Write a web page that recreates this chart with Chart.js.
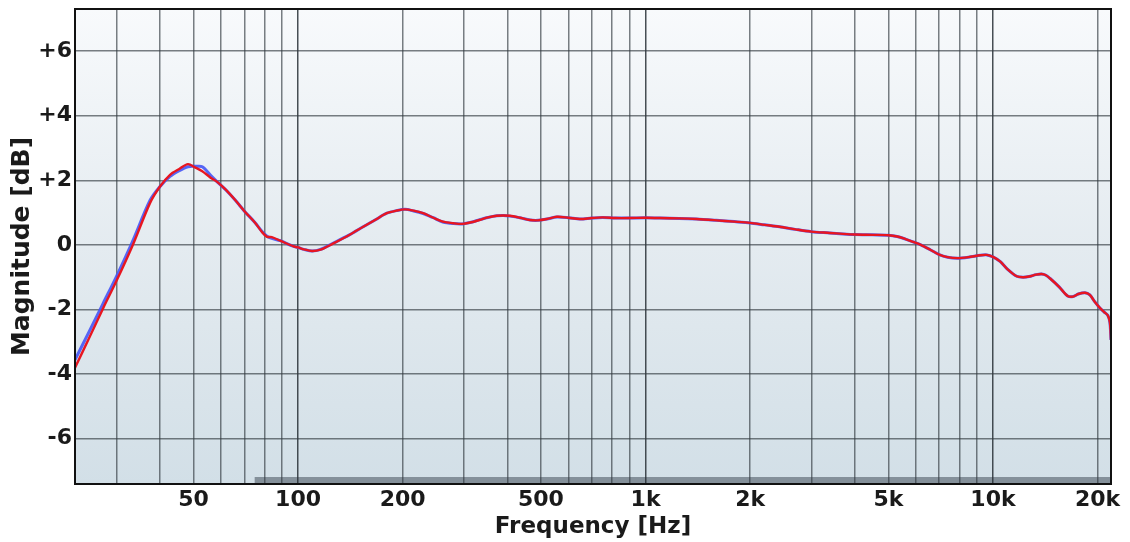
<!DOCTYPE html>
<html>
<head>
<meta charset="utf-8">
<title>Frequency response</title>
<script src="https://cdn.jsdelivr.net/npm/chart.js@4.4.1/dist/chart.umd.min.js"></script>
<style>
  html, body { margin: 0; padding: 0; background: #fff; }
  #wrap { width: 1130px; height: 542px; }
</style>
</head>
<body>
<div id="wrap"><canvas id="response" width="1130" height="542"></canvas></div>
<script>
// Measurement points (Hz)
const freqs = [22.8, 25, 27.5, 30, 33.3, 37.5, 40, 42.8, 45.5, 48.2, 50.5, 53, 56, 58.5, 62, 66, 70.4, 75, 79,
  81.4, 84, 88.8, 96.7, 100, 104, 109.7, 116, 126, 140, 154, 167, 180, 192, 203, 215, 229, 245, 261, 280, 297,
  315, 333, 352, 373, 390, 407, 435, 465, 490, 520, 556, 600, 647, 700, 752, 820, 900, 1000, 1100, 1250, 1400,
  1600, 1800, 2000, 2200, 2430, 2700, 3000, 3390, 3700, 4000, 4500, 5000, 5300, 5600, 5900, 6200, 6600, 7000,
  7400, 7900, 8500, 9200, 9600, 10000, 10500, 11000, 11700, 12200, 12700, 13300, 13800, 14200, 14600, 15500,
  16400, 17000, 17600, 18400, 19000, 19600, 20300, 20900, 21400, 21700, 21860];

// Left channel (blue), dB
const leftDb = [-3.56, -2.7, -1.8, -0.98, 0.08, 1.38, 1.8, 2.12, 2.3, 2.42, 2.43, 2.42, 2.15, 1.95, 1.7, 1.38,
  1.02, 0.7, 0.4, 0.27, 0.2, 0.13, -0.04, -0.08, -0.14, -0.19, -0.14, 0.05, 0.3, 0.56, 0.78, 0.98, 1.06, 1.1,
  1.05, 0.97, 0.84, 0.71, 0.66, 0.65, 0.7, 0.78, 0.85, 0.9, 0.91, 0.89, 0.84, 0.77, 0.76, 0.8, 0.86, 0.84, 0.8,
  0.83, 0.85, 0.83, 0.83, 0.84, 0.83, 0.82, 0.8, 0.76, 0.72, 0.68, 0.62, 0.56, 0.48, 0.41, 0.37, 0.34, 0.32,
  0.31, 0.3, 0.26, 0.18, 0.09, 0.0, -0.15, -0.3, -0.38, -0.41, -0.38, -0.32, -0.31, -0.37, -0.52, -0.75, -0.97,
  -1.0, -0.98, -0.92, -0.9, -0.94, -1.04, -1.3, -1.58, -1.6, -1.52, -1.48, -1.55, -1.75, -1.95, -2.08, -2.18,
  -2.4, -2.94];

// Right channel (red), dB
const rightDb = [-3.8, -2.9, -1.95, -1.12, -0.05, 1.3, 1.8, 2.17, 2.35, 2.5, 2.4, 2.28, 2.08, 1.95, 1.7, 1.38,
  1.02, 0.7, 0.38, 0.25, 0.24, 0.13, -0.04, -0.08, -0.14, -0.19, -0.15, 0.04, 0.3, 0.56, 0.78, 0.98, 1.06, 1.1,
  1.06, 0.98, 0.84, 0.72, 0.67, 0.65, 0.7, 0.77, 0.85, 0.9, 0.91, 0.9, 0.84, 0.77, 0.76, 0.8, 0.87, 0.84, 0.8,
  0.83, 0.85, 0.83, 0.83, 0.84, 0.83, 0.82, 0.8, 0.76, 0.72, 0.68, 0.62, 0.56, 0.48, 0.41, 0.37, 0.34, 0.32,
  0.31, 0.3, 0.26, 0.18, 0.09, 0.0, -0.15, -0.3, -0.38, -0.41, -0.38, -0.32, -0.31, -0.37, -0.52, -0.75, -0.97,
  -1.0, -0.98, -0.92, -0.9, -0.94, -1.04, -1.3, -1.58, -1.6, -1.52, -1.48, -1.55, -1.75, -1.95, -2.08, -2.18,
  -2.4, -2.94];

// Vertical grid lines and the ones that get a label
const freqGrid = [30, 40, 50, 60, 70, 80, 90, 100, 200, 300, 400, 500, 600, 700, 800, 900,
  1000, 2000, 3000, 4000, 5000, 6000, 7000, 8000, 9000, 10000, 20000];
const freqLabels = { 50: '50', 100: '100', 200: '200', 500: '500', 1000: '1k', 2000: '2k',
  5000: '5k', 10000: '10k', 20000: '20k' };
const dbTicks = [-6, -4, -2, 0, 2, 4, 6];

// shaded band along the bottom, from this frequency to the right edge
const bandStart = 75;

const FONT = 'DejaVu Sans, Verdana, sans-serif';

const toPoints = (ys) => freqs.map((f, i) => ({ x: f, y: ys[i] }));

// plot background + bottom band
const plotBackground = {
  id: 'plotBackground',
  beforeDraw(chart) {
    const { ctx, chartArea: a } = chart;
    const g = ctx.createLinearGradient(0, a.top, 0, a.bottom);
    g.addColorStop(0, '#f8fafc');
    g.addColorStop(0.5, '#e4ebf0');
    g.addColorStop(1, '#d2dfe7');
    ctx.save();
    ctx.fillStyle = g;
    ctx.fillRect(a.left, a.top, a.right - a.left, a.bottom - a.top);
    const x0 = chart.scales.x.getPixelForValue(bandStart);
    ctx.fillStyle = 'rgba(105,118,128,0.75)';
    ctx.fillRect(x0, a.bottom - 7, a.right - x0, 7);
    ctx.restore();
  }
};

// black frame around the plot
const plotFrame = {
  id: 'plotFrame',
  afterDraw(chart) {
    const { ctx, chartArea: a } = chart;
    ctx.save();
    ctx.strokeStyle = '#111';
    ctx.lineWidth = 2;
    ctx.strokeRect(a.left, a.top, a.right - a.left, a.bottom - a.top);
    ctx.restore();
  }
};

const ctx = document.getElementById('response').getContext('2d');
new Chart(ctx, {
  type: 'line',
  data: {
    datasets: [
      {
        label: 'R',
        data: toPoints(rightDb),
        borderColor: 'rgb(232,22,32)',
        borderWidth: 2.4,
        pointRadius: 0,
        tension: 0.3,
        order: 0,
      },
      {
        label: 'L',
        data: toPoints(leftDb),
        borderColor: 'rgba(70,85,245,0.9)',
        borderWidth: 3,
        pointRadius: 0,
        tension: 0.3,
        order: 1,
      },
    ],
  },
  options: {
    responsive: false,
    animation: false,
    layout: { padding: { top: 9, right: 19, left: 0, bottom: 0 } },
    plugins: {
      legend: { display: false },
      tooltip: { enabled: false },
    },
    scales: {
      x: {
        type: 'logarithmic',
        min: 22.8,
        max: 21860,
        afterFit: (scale) => {
          scale.height = 58;
          scale.paddingLeft = 0;
          scale.paddingRight = 0;
        },
        afterBuildTicks: (scale) => { scale.ticks = freqGrid.map(v => ({ value: v })); },
        grid: {
          drawTicks: false,
          lineWidth: 1.5,
          color: (c) => ([100, 1000, 10000].includes(c.tick && c.tick.value)
            ? 'rgba(40,48,54,0.85)' : 'rgba(50,58,64,0.65)'),
        },
        border: { display: false },
        ticks: {
          autoSkip: false,
          maxRotation: 0,
          padding: 3,
          color: '#1a1a1a',
          font: { family: FONT, size: 22, weight: 'bold' },
          callback: (v) => freqLabels[v] || '',
        },
        title: {
          display: true,
          text: 'Frequency [Hz]',
          color: '#1a1a1a',
          padding: { top: 0, bottom: 1 },
          font: { family: FONT, size: 23, weight: 'bold' },
        },
      },
      y: {
        min: -7.4,
        max: 7.3,
        afterFit: (scale) => {
          scale.width = 75;
          scale.paddingTop = 0;
          scale.paddingBottom = 0;
        },
        afterBuildTicks: (scale) => { scale.ticks = dbTicks.map(v => ({ value: v })); },
        grid: {
          drawTicks: false,
          lineWidth: 1.5,
          color: 'rgba(50,58,64,0.65)',
        },
        border: { display: false },
        ticks: {
          padding: 3,
          color: '#1a1a1a',
          font: { family: FONT, size: 22, weight: 'bold' },
          callback: (v) => (v > 0 ? '+' + v : String(v)),
        },
        title: {
          display: true,
          text: 'Magnitude [dB]',
          color: '#1a1a1a',
          padding: { top: 7, bottom: 0 },
          font: { family: FONT, size: 25, weight: 'bold' },
        },
      },
    },
  },
  plugins: [plotBackground, plotFrame],
});
</script>
</body>
</html>
